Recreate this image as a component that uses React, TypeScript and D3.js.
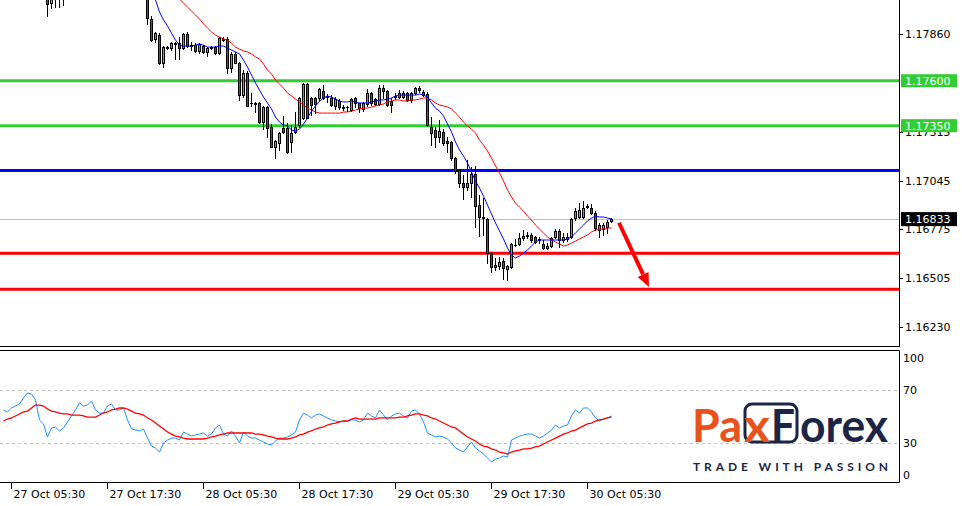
import React from 'react';
import * as d3 from 'd3';

// ---------- DATA ----------
type C = [number, number, number, number] | null; // open, high, low, close

const OHLC: C[] = [
  null, null, null, null, null, null, null, null, null, null, null, // 0-10 (above view)
  [1.18077, 1.18132, 1.17960, 1.18027], // 11
  [1.18032, 1.18094, 1.18004, 1.18066],
  [1.18060, 1.18110, 1.18010, 1.18080],
  [1.18075, 1.18100, 1.18010, 1.18055],
  [1.18060, 1.18120, 1.18021, 1.18090], // 15
  null, null, null, null, null, null, null, null, null, null, // 16-25 (above view)
  null, null, null, null, null, null, null, null, null, null, // 26-35 (above view)
  [1.18077, 1.18094, 1.17916, 1.17948], // 36
  [1.17943, 1.17960, 1.17820, 1.17826],
  [1.17832, 1.17871, 1.17815, 1.17865],
  [1.17854, 1.17865, 1.17693, 1.17698],
  [1.17698, 1.17793, 1.17676, 1.17787], // 40
  [1.17781, 1.17793, 1.17776, 1.17787],
  [1.17781, 1.17815, 1.17771, 1.17809],
  [1.17809, 1.17815, 1.17721, 1.17806],
  [1.17809, 1.17843, 1.17721, 1.17781],
  [1.17781, 1.17865, 1.17776, 1.17860], // 45
  [1.17860, 1.17871, 1.17787, 1.17793],
  [1.17798, 1.17815, 1.17771, 1.17793],
  [1.17798, 1.17809, 1.17760, 1.17765],
  [1.17765, 1.17809, 1.17754, 1.17804],
  [1.17793, 1.17798, 1.17754, 1.17757], // 50
  [1.17760, 1.17787, 1.17738, 1.17781],
  [1.17787, 1.17793, 1.17776, 1.17784],
  [1.17787, 1.17793, 1.17749, 1.17754],
  [1.17754, 1.17843, 1.17749, 1.17837],
  [1.17832, 1.17843, 1.17820, 1.17829], // 55
  [1.17832, 1.17843, 1.17643, 1.17670],
  [1.17670, 1.17760, 1.17649, 1.17749],
  [1.17749, 1.17760, 1.17698, 1.17700],
  [1.17698, 1.17704, 1.17493, 1.17520],
  [1.17520, 1.17660, 1.17509, 1.17643], // 60
  [1.17643, 1.17654, 1.17460, 1.17462],
  [1.17476, 1.17531, 1.17460, 1.17474],
  [1.17476, 1.17482, 1.17426, 1.17471],
  [1.17476, 1.17482, 1.17364, 1.17370],
  [1.17370, 1.17460, 1.17331, 1.17454], // 65
  [1.17454, 1.17460, 1.17287, 1.17336],
  [1.17342, 1.17359, 1.17231, 1.17233],
  [1.17231, 1.17270, 1.17170, 1.17264],
  [1.17253, 1.17315, 1.17215, 1.17309],
  [1.17336, 1.17404, 1.17309, 1.17315], // 70
  [1.17336, 1.17364, 1.17198, 1.17204],
  [1.17259, 1.17353, 1.17204, 1.17309],
  [1.17315, 1.17426, 1.17309, 1.17342],
  [1.17353, 1.17509, 1.17342, 1.17504],
  [1.17392, 1.17587, 1.17387, 1.17582], // 75
  [1.17582, 1.17587, 1.17437, 1.17392],
  [1.17504, 1.17509, 1.17409, 1.17465],
  [1.17504, 1.17509, 1.17420, 1.17471],
  [1.17504, 1.17559, 1.17493, 1.17554],
  [1.17543, 1.17576, 1.17498, 1.17504], // 80
  [1.17515, 1.17526, 1.17482, 1.17509],
  [1.17504, 1.17520, 1.17460, 1.17465],
  [1.17460, 1.17509, 1.17443, 1.17498],
  [1.17487, 1.17498, 1.17443, 1.17454],
  [1.17454, 1.17465, 1.17437, 1.17451], // 85
  [1.17454, 1.17460, 1.17431, 1.17452],
  [1.17437, 1.17504, 1.17431, 1.17498],
  [1.17504, 1.17509, 1.17454, 1.17476],
  [1.17476, 1.17478, 1.17426, 1.17448],
  [1.17443, 1.17482, 1.17431, 1.17476], // 90
  [1.17471, 1.17554, 1.17460, 1.17531],
  [1.17531, 1.17537, 1.17465, 1.17476],
  [1.17498, 1.17504, 1.17465, 1.17471],
  [1.17471, 1.17576, 1.17465, 1.17559],
  [1.17559, 1.17576, 1.17504, 1.17543], // 95
  [1.17543, 1.17548, 1.17460, 1.17465],
  [1.17487, 1.17504, 1.17426, 1.17465],
  [1.17515, 1.17531, 1.17498, 1.17509],
  [1.17509, 1.17548, 1.17504, 1.17531],
  [1.17509, 1.17543, 1.17504, 1.17531], // 100
  [1.17531, 1.17537, 1.17487, 1.17493],
  [1.17493, 1.17537, 1.17482, 1.17531],
  [1.17531, 1.17565, 1.17526, 1.17559],
  [1.17559, 1.17570, 1.17537, 1.17548],
  [1.17537, 1.17548, 1.17515, 1.17520], // 105
  [1.17526, 1.17537, 1.17348, 1.17353],
  [1.17342, 1.17398, 1.17242, 1.17309],
  [1.17326, 1.17342, 1.17231, 1.17287],
  [1.17287, 1.17381, 1.17259, 1.17320],
  [1.17315, 1.17331, 1.17242, 1.17253], // 110
  [1.17264, 1.17287, 1.17204, 1.17253],
  [1.17259, 1.17264, 1.17159, 1.17170],
  [1.17170, 1.17176, 1.17086, 1.17097],
  [1.17103, 1.17109, 1.17009, 1.17031],
  [1.17031, 1.17075, 1.16942, 1.17009], // 115
  [1.17009, 1.17159, 1.16992, 1.17031],
  [1.17031, 1.17120, 1.16953, 1.17081],
  [1.17081, 1.17126, 1.16786, 1.16903],
  [1.16908, 1.16964, 1.16737, 1.16842],
  [1.16842, 1.16947, 1.16742, 1.16836], // 120
  [1.16831, 1.16836, 1.16586, 1.16641],
  [1.16641, 1.16647, 1.16536, 1.16564],
  [1.16564, 1.16614, 1.16547, 1.16575],
  [1.16570, 1.16619, 1.16553, 1.16592],
  [1.16597, 1.16614, 1.16497, 1.16558], // 125
  [1.16553, 1.16575, 1.16491, 1.16570],
  [1.16564, 1.16697, 1.16558, 1.16692],
  [1.16686, 1.16720, 1.16681, 1.16684],
  [1.16692, 1.16753, 1.16686, 1.16725],
  [1.16725, 1.16770, 1.16714, 1.16737], // 130
  [1.16742, 1.16759, 1.16725, 1.16734],
  [1.16742, 1.16753, 1.16703, 1.16714],
  [1.16731, 1.16737, 1.16697, 1.16703],
  [1.16720, 1.16731, 1.16697, 1.16714],
  [1.16692, 1.16714, 1.16664, 1.16669], // 135
  [1.16669, 1.16697, 1.16664, 1.16681],
  [1.16681, 1.16731, 1.16675, 1.16725],
  [1.16731, 1.16775, 1.16725, 1.16764],
  [1.16764, 1.16775, 1.16675, 1.16714],
  [1.16714, 1.16753, 1.16703, 1.16731], // 140
  [1.16720, 1.16753, 1.16708, 1.16731],
  [1.16731, 1.16836, 1.16725, 1.16831],
  [1.16836, 1.16892, 1.16825, 1.16875],
  [1.16842, 1.16920, 1.16836, 1.16881],
  [1.16842, 1.16931, 1.16836, 1.16892], // 145
  [1.16903, 1.16914, 1.16892, 1.16897],
  [1.16892, 1.16914, 1.16859, 1.16864],
  [1.16864, 1.16875, 1.16770, 1.16781],
  [1.16770, 1.16809, 1.16731, 1.16797],
  [1.16775, 1.16809, 1.16742, 1.16797], // 150
  [1.16786, 1.16825, 1.16753, 1.16814],
  [1.16822, 1.16836, 1.16812, 1.16833], // 152
];

const FAST_MA: (number | null)[] = [
  ...Array(37).fill(null),
  1.18116, 1.18049, 1.17982, 1.17938, 1.17904, 1.17865, 1.17826, 1.17798, 1.17793, 1.17793,
  1.17793, 1.17798, 1.17804, 1.17798, 1.17787, 1.17787, 1.17787, 1.17793, 1.17793, 1.17781,
  1.17771, 1.17760, 1.17749, 1.17715, 1.17676, 1.17632, 1.17587, 1.17548, 1.17509, 1.17476,
  1.17443, 1.17398, 1.17370, 1.17353, 1.17348, 1.17326, 1.17320, 1.17331, 1.17359, 1.17392,
  1.17431, 1.17460, 1.17487, 1.17504, 1.17515, 1.17509, 1.17498, 1.17487, 1.17482, 1.17482,
  1.17487, 1.17482, 1.17476, 1.17476, 1.17476, 1.17482, 1.17487, 1.17493, 1.17493, 1.17498,
  1.17504, 1.17515, 1.17520, 1.17520, 1.17520, 1.17520, 1.17520, 1.17526, 1.17520, 1.17509,
  1.17476, 1.17448, 1.17431, 1.17404, 1.17359, 1.17315, 1.17259, 1.17215, 1.17181, 1.17142,
  1.17092, 1.17042, 1.17003, 1.16958, 1.16908, 1.16859, 1.16809, 1.16764, 1.16720, 1.16669,
  1.16630, 1.16614, 1.16625, 1.16641, 1.16658, 1.16681, 1.16703, 1.16714, 1.16714, 1.16714,
  1.16714, 1.16714, 1.16714, 1.16714, 1.16720, 1.16731, 1.16753, 1.16775, 1.16797, 1.16820,
  1.16836, 1.16847, 1.16842, 1.16842, 1.16836, 1.16831,
];

const SLOW_MA: (number | null)[] = [
  ...Array(41).fill(null),
  1.18116, 1.18099, 1.18077, 1.18055, 1.18032, 1.18010, 1.17988, 1.17966, 1.17943, 1.17916,
  1.17893, 1.17871, 1.17854, 1.17843, 1.17832, 1.17826, 1.17809, 1.17787, 1.17776, 1.17765,
  1.17760, 1.17749, 1.17732, 1.17721, 1.17693, 1.17660, 1.17637, 1.17604, 1.17582, 1.17559,
  1.17531, 1.17515, 1.17498, 1.17482, 1.17465, 1.17448, 1.17437, 1.17426, 1.17420, 1.17420,
  1.17420, 1.17420, 1.17420, 1.17420, 1.17426, 1.17426, 1.17431, 1.17437, 1.17443, 1.17448,
  1.17448, 1.17454, 1.17460, 1.17465, 1.17471, 1.17482, 1.17487, 1.17493, 1.17493, 1.17487,
  1.17487, 1.17493, 1.17493, 1.17498, 1.17504, 1.17504, 1.17493, 1.17476, 1.17465, 1.17460,
  1.17454, 1.17443, 1.17420, 1.17398, 1.17370, 1.17348, 1.17331, 1.17309, 1.17270, 1.17242,
  1.17209, 1.17170, 1.17126, 1.17086, 1.17042, 1.16992, 1.16953, 1.16920, 1.16897, 1.16875,
  1.16847, 1.16825, 1.16797, 1.16775, 1.16753, 1.16731, 1.16714, 1.16703, 1.16692, 1.16681,
  1.16686, 1.16697, 1.16708, 1.16720, 1.16731, 1.16742, 1.16759, 1.16770, 1.16775, 1.16775,
  1.16781, 1.16781,
];

const RSI: number[] = [
  54.9, 53.4, 56.4, 57.9, 59.4, 63.9, 67.7, 66.9, 62.4, 47.4,
  44.4, 34.6, 41.4, 42.1, 39.1, 41.4, 45.9, 50.4, 54.9, 60.2,
  57.9, 58.6, 61.7, 54.9, 52.6, 52.6, 57.9, 59.4, 54.9, 54.9,
  56.4, 47.4, 40.6, 39.8, 39.1, 40.6, 33.8, 27.8, 26.3, 23.3,
  30.1, 32.3, 33.8, 33.8, 32.3, 38.3, 36.8, 35.3, 36.1, 36.8,
  37.6, 35.3, 36.8, 41.4, 43.6, 36.8, 35.3, 39.1, 35.3, 30.1,
  38.3, 35.3, 33.8, 33.8, 32.3, 30.8, 29.3, 28.6, 31.6, 33.8,
  33.8, 34.6, 36.1, 38.3, 47.4, 52.6, 51.1, 48.9, 51.1, 51.9,
  50.4, 48.9, 47.4, 46.6, 45.9, 46.6, 46.6, 47.4, 47.4, 45.9,
  47.4, 52.6, 50.4, 48.9, 54.9, 51.1, 47.4, 50.4, 51.9, 52.6,
  50.4, 48.9, 54.1, 54.9, 51.9, 45.9, 37.6, 36.1, 34.6, 35.3,
  34.6, 33.1, 30.1, 26.3, 24.8, 23.3, 27.1, 30.8, 26.3, 24.1,
  21.8, 18.8, 15.8, 18.0, 18.8, 20.3, 19.5, 32.3, 33.8, 35.3,
  36.1, 36.8, 36.8, 35.3, 33.8, 35.3, 37.6, 39.8, 43.6, 41.4,
  42.9, 43.6, 50.4, 54.9, 52.6, 56.4, 56.4, 53.4, 48.9, 46.6,
  48.1, 48.9, 50.4,
];

const RSI_MA: number[] = [
  46.6, 48.1, 48.9, 50.4, 51.9, 53.4, 54.1, 56.4, 58.6, 58.6,
  57.9, 55.6, 54.1, 53.4, 52.6, 51.9, 51.9, 51.1, 51.1, 51.1,
  50.4, 49.6, 49.6, 49.6, 51.1, 52.6, 53.4, 54.9, 55.6, 56.4,
  56.4, 55.6, 54.1, 52.6, 51.9, 51.1, 48.9, 47.4, 45.1, 42.9,
  40.6, 38.3, 36.8, 35.3, 34.6, 33.8, 33.1, 33.1, 33.1, 33.1,
  33.1, 33.8, 34.6, 35.3, 36.1, 36.8, 37.6, 37.6, 37.6, 37.6,
  37.6, 37.6, 37.6, 36.8, 36.8, 36.1, 35.3, 34.6, 33.8, 33.1,
  33.1, 33.1, 33.8, 34.6, 36.1, 36.8, 38.3, 39.1, 40.6, 41.4,
  42.1, 43.6, 44.4, 45.1, 45.9, 46.6, 46.6, 48.1, 48.9, 48.1,
  48.1, 48.1, 48.1, 48.1, 48.9, 48.9, 48.9, 48.9, 48.9, 49.6,
  49.6, 50.4, 51.1, 51.9, 51.9, 51.1, 50.4, 48.9, 48.1, 46.6,
  45.1, 43.6, 42.1, 41.4, 39.1, 36.8, 34.6, 33.1, 31.6, 29.3,
  27.8, 27.1, 25.6, 24.8, 23.3, 22.6, 21.8, 23.3, 24.1, 24.8,
  25.6, 25.6, 26.3, 27.1, 27.8, 29.3, 30.8, 32.3, 33.8, 35.3,
  36.8, 37.6, 39.1, 39.8, 41.4, 42.9, 44.4, 45.1, 46.6, 47.4,
  48.1, 48.9, 49.6,
];

const PRICE_TICKS = ['1.17860', '1.17315', '1.17045', '1.16775', '1.16505', '1.16230'];
const RSI_TICKS = [100, 70, 30, 0];
const RSI_LEVELS = [70, 30];
const TIME_LABELS = ['27 Oct 05:30', '27 Oct 17:30', '28 Oct 05:30', '28 Oct 17:30', '29 Oct 05:30', '29 Oct 17:30', '30 Oct 05:30'];
const TIME_BARS = [2, 26, 50, 74, 98, 122, 146];

const LEVELS = [
  { price: 1.176, color: '#32cd32', label: '1.17600' },
  { price: 1.1735, color: '#32cd32', label: '1.17350' },
  { price: 1.171, color: '#0000ff', label: '' },
  { price: 1.1664, color: '#ff0000', label: '' },
  { price: 1.1644, color: '#ff0000', label: '' },
];
const LAST_PRICE = 1.16833;
const ARROW_FROM = { bar: 154, price: 1.1681 };
const ARROW_TO = { bar: 161.5, price: 1.16452 };

// ---------- CHART ----------
const W = 962;
const H = 506;
const AX = 899;
const FONT = "'DejaVu Sans', Verdana, sans-serif";
const BULL = '#32cd32';
const BEAR = '#e8141e';
const ORANGE = '#e8531d';
const NAVY = '#1b2646';

export default function App() {
  const x = d3.scaleLinear().domain([0, 152]).range([3, 611]);
  const y = d3.scaleLinear().domain([1.18049, 1.1613]).range([0, 345]);
  const yr = d3.scaleLinear().domain([0, 100]).range([483, 350]);

  const maLine = d3
    .line<number | null>()
    .defined((d) => d != null)
    .x((_, i) => x(i) + 0.5)
    .y((d) => y(d as number));
  const rsiLine = d3
    .line<number>()
    .x((_, i) => x(i) + 0.5)
    .y((d) => yr(d));

  // arrow
  const ax1 = x(ARROW_FROM.bar), ay1 = y(ARROW_FROM.price);
  const ax2 = x(ARROW_TO.bar), ay2 = y(ARROW_TO.price);
  const len = Math.hypot(ax2 - ax1, ay2 - ay1);
  const ux = (ax2 - ax1) / len, uy = (ay2 - ay1) / len;
  const hl = 14, hw = 6;
  const bx = ax2 - ux * hl, by = ay2 - uy * hl;
  const head = `${ax2},${ay2} ${bx - uy * hw},${by + ux * hw} ${bx + uy * hw},${by - ux * hw}`;

  return (
    <div style={{ position: 'absolute', left: 0, top: 0 }}>
      <svg width={W} height={H} style={{ display: 'block', background: '#fff' }}>
        <defs>
          <clipPath id="top">
            <rect x={0} y={0} width={AX} height={346} />
          </clipPath>
          <clipPath id="bot">
            <rect x={0} y={350} width={AX} height={133} />
          </clipPath>
        </defs>

        {/* levels */}
        <line x1={0} x2={AX} y1={Math.round(y(LAST_PRICE)) + 0.5} y2={Math.round(y(LAST_PRICE)) + 0.5} stroke="#c0c0c0" />
        {LEVELS.map((l, i) => (
          <line key={i} x1={0} x2={AX} y1={y(l.price)} y2={y(l.price)} stroke={l.color} strokeWidth={3} />
        ))}

        {/* candles */}
        <g clipPath="url(#top)">
          {OHLC.map((c, i) => {
            if (!c) return null;
            const [o, h, l, cl] = c;
            const cx = Math.round(x(i));
            const yo = y(o), yc = y(cl);
            const top = Math.round(Math.min(yo, yc));
            const bot = Math.round(Math.max(yo, yc));
            return (
              <g key={i}>
                <line x1={cx + 0.5} x2={cx + 0.5} y1={Math.round(y(h))} y2={Math.round(y(l)) + 1} stroke="#000" />
                {bot - top < 1 ? (
                  <line x1={cx - 1} x2={cx + 2} y1={top + 0.5} y2={top + 0.5} stroke="#000" />
                ) : (
                  <rect x={cx - 0.5} y={top + 0.5} width={2} height={bot - top} fill={cl >= o ? BULL : BEAR} stroke="#000" />
                )}
              </g>
            );
          })}
          <path d={maLine(SLOW_MA) || ''} fill="none" stroke="#ff0000" strokeWidth={1} />
          <path d={maLine(FAST_MA) || ''} fill="none" stroke="#0000ff" strokeWidth={1} />
        </g>

        {/* arrow */}
        <line x1={ax1} y1={ay1} x2={bx} y2={by} stroke="#ff0000" strokeWidth={4} />
        <polygon points={head} fill="#ff0000" />

        {/* price axis */}
        <line x1={AX + 0.5} x2={AX + 0.5} y1={0} y2={347} stroke="#000" />
        <line x1={0} x2={AX + 1} y1={346.5} y2={346.5} stroke="#000" />
        {PRICE_TICKS.map((t) => {
          const yy = Math.round(y(+t)) + 0.5;
          return (
            <g key={t}>
              <line x1={AX} x2={AX + 4} y1={yy} y2={yy} stroke="#000" />
              <text x={905} y={yy} dy="0.36em" fontFamily={FONT} fontSize={11} fill="#000">{t}</text>
            </g>
          );
        })}
        {LEVELS.filter((l) => l.label).map((l) => {
          const yy = y(l.price);
          return (
            <g key={l.label}>
              <rect x={901} y={yy - 6.5} width={56} height={13} fill={l.color} />
              <text x={905} y={yy} dy="0.36em" fontFamily={FONT} fontSize={11} fill="#fff">{l.label}</text>
            </g>
          );
        })}
        <rect x={901} y={y(LAST_PRICE) - 6.5} width={56} height={14} fill="#000" />
        <text x={905} y={y(LAST_PRICE) + 0.5} dy="0.36em" fontFamily={FONT} fontSize={11} fill="#fff">{LAST_PRICE.toFixed(5)}</text>

        {/* RSI panel */}
        {RSI_LEVELS.map((v) => (
          <line key={v} x1={0} x2={AX} y1={Math.round(yr(v)) + 0.5} y2={Math.round(yr(v)) + 0.5} stroke="#c0c0c0" strokeDasharray="3,3" />
        ))}
        <g clipPath="url(#bot)">
          <path d={rsiLine(RSI) || ''} fill="none" stroke="#1e90ff" strokeWidth={1} />
          <path d={rsiLine(RSI_MA) || ''} fill="none" stroke="#ff0000" strokeWidth={1.3} />
        </g>
        <path d={`M0,350.5H${AX + 0.5}V482.5H0`} fill="none" stroke="#000" />
        {RSI_TICKS.map((v) => {
          const yy = v === 100 ? yr(v) + 8 : v === 0 ? yr(v) - 8 : yr(v);
          return (
            <text key={v} x={903} y={yy} dy="0.36em" fontFamily={FONT} fontSize={11} fill="#000">{v}</text>
          );
        })}

        {/* time axis */}
        {TIME_LABELS.map((t, i) => {
          const tx = Math.round(x(TIME_BARS[i])) + 0.5;
          return (
            <g key={t}>
              <line x1={tx} x2={tx} y1={483} y2={489} stroke="#000" />
              <text x={tx + 2} y={498} fontFamily={FONT} fontSize={11} fill="#000">{t}</text>
            </g>
          );
        })}

        {/* logo */}
        <g>
          <rect x={745} y={404} width={52} height={38} rx={7} fill="none" stroke={NAVY} strokeWidth={3} />
          <text x={692} y={442} fontFamily="Lato, 'Open Sans', sans-serif" fontWeight={700} fontSize={46} fill={ORANGE} textLength={50} lengthAdjust="spacingAndGlyphs">Pa</text>
          <text x={744} y={442} fontFamily="Lato, 'Open Sans', sans-serif" fontWeight={700} fontSize={46} fill={ORANGE} textLength={26} lengthAdjust="spacingAndGlyphs">x</text>
          <text x={771} y={442} fontFamily="Lato, 'Open Sans', sans-serif" fontWeight={700} fontSize={46} fill={NAVY} textLength={24} lengthAdjust="spacingAndGlyphs">F</text>
          <text x={800} y={442} fontFamily="Lato, 'Open Sans', sans-serif" fontWeight={700} fontSize={46} fill={NAVY} textLength={88} lengthAdjust="spacingAndGlyphs">orex</text>
          <text x={693} y={471} fontFamily="Lato, 'Open Sans', sans-serif" fontWeight={700} fontSize={12} fill={NAVY} textLength={195} lengthAdjust="spacing">TRADE WITH PASSION</text>
        </g>
      </svg>
    </div>
  );
}
